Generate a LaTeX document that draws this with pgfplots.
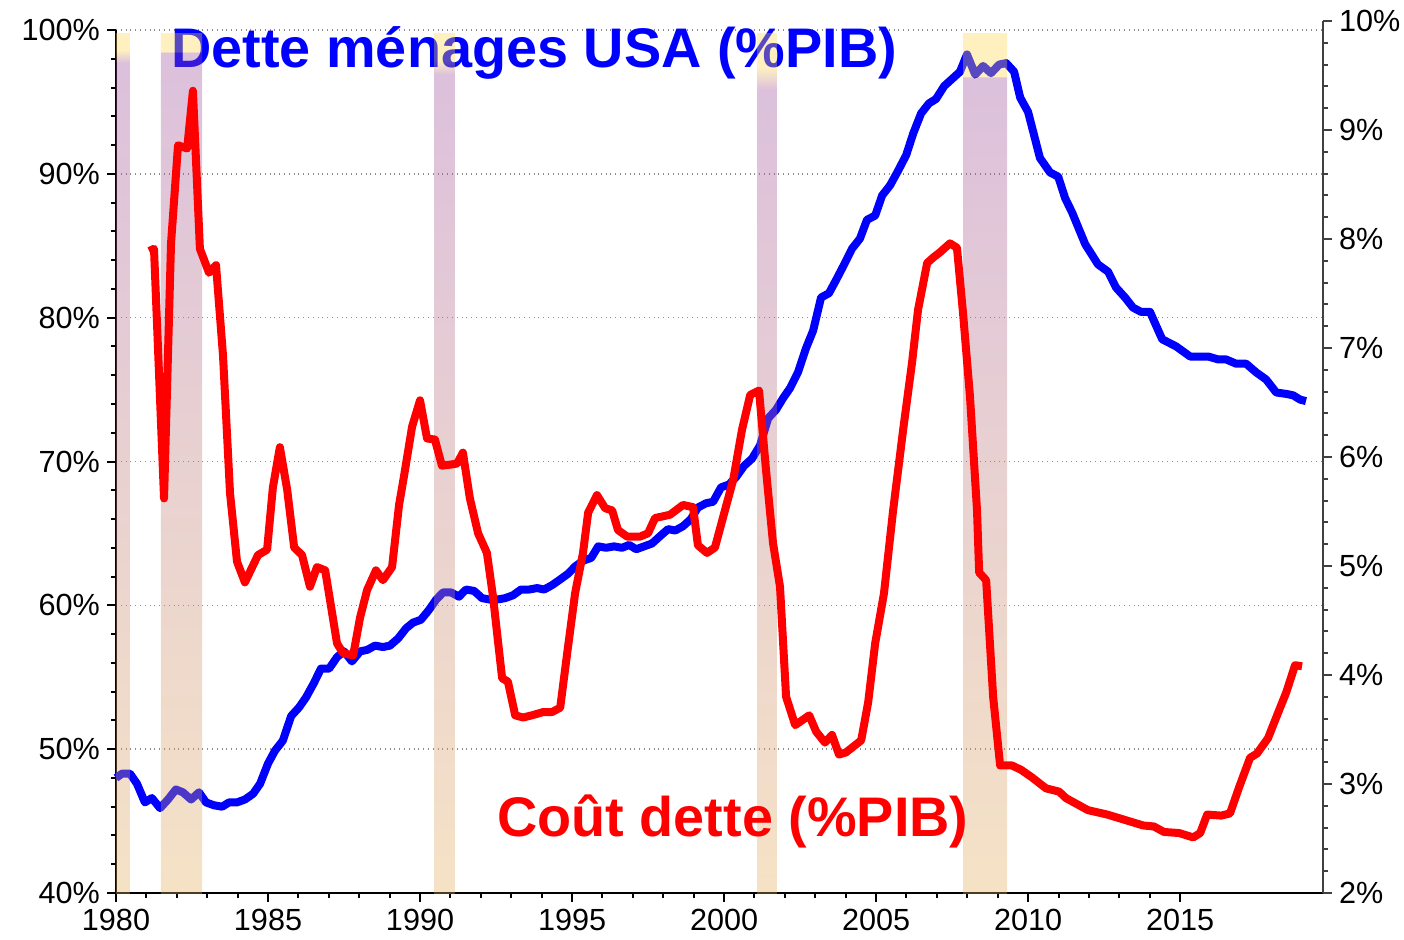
\documentclass[border=0pt]{standalone}
\usepackage{pgfplots}
\pgfplotsset{compat=1.18}
\usepackage{fontspec}
\setmainfont{Liberation Sans}

\definecolor{bandtop}{RGB}{155,75,155}
\definecolor{bandbot}{RGB}{226,172,89}
\definecolor{bandcap}{RGB}{255,212,75}
\definecolor{gridgray}{RGB}{140,140,140}

% one vertical shading per recession band: beige at the bottom, purple higher up, yellow cap
% (the path is mapped on 25bp..75bp of the shading)
\pgfdeclareverticalshading{bandA}{100bp}{color(0bp)=(bandbot); color(25bp)=(bandbot); color(73.26bp)=(bandtop); color(74.01bp)=(bandcap); color(100bp)=(bandcap)}
\pgfdeclareverticalshading{bandB}{100bp}{color(0bp)=(bandbot); color(25bp)=(bandbot); color(73.88bp)=(bandtop); color(73.9bp)=(bandcap); color(100bp)=(bandcap)}
\pgfdeclareverticalshading{bandC}{100bp}{color(0bp)=(bandbot); color(25bp)=(bandbot); color(72.58bp)=(bandtop); color(73.42bp)=(bandcap); color(100bp)=(bandcap)}
\pgfdeclareverticalshading{bandD}{100bp}{color(0bp)=(bandbot); color(25bp)=(bandbot); color(71.69bp)=(bandtop); color(73.03bp)=(bandcap); color(100bp)=(bandcap)}
\pgfdeclareverticalshading{bandE}{100bp}{color(0bp)=(bandbot); color(25bp)=(bandbot); color(72.43bp)=(bandtop); color(72.45bp)=(bandcap); color(100bp)=(bandcap)}

\pgfplotsset{
  common/.style={
    scale only axis, width=603.5pt,
    xmin=1980, xmax=2019.7,
    at={(0,0)}, anchor=south west,
    tick align=outside,
    major tick length=4.5pt, minor tick length=2.5pt,
    ticklabel style={font=\fontsize{15.3}{18}\selectfont},
    /pgf/number format/assume math mode=true,
    /pgf/number format/1000 sep={},
    clip=false,
  },
  band/.style={draw=none, fill opacity=0.35, forget plot, shading=#1},
}

\begin{document}
\begin{tikzpicture}
\useasboundingbox (-58pt,-23pt) rectangle (644pt,446.5pt);

% axe gauche : dette des menages
\begin{axis}[common,
    height=431.5pt,
    ymin=40, ymax=100,
    axis x line*=bottom, axis y line*=left,
    xtick={1980,1985,...,2015}, minor x tick num=4,
    ytick={40,50,...,100}, minor y tick num=4,
    yticklabel={\pgfmathprintnumber{\tick}\%},
    ymajorgrids, grid style={gridgray, dotted, line width=0.7pt},
    axis line style={line width=1pt, black},
    tick style={line width=1pt, black},
]
\node[anchor=base west, inner sep=0pt, text=blue, font=\fontsize{27.9}{30}\selectfont\bfseries]
  at (axis cs:1981.81,97.36) {Dette ménages USA (\%PIB)};

\addplot[blue, line width=4pt, line join=round] table {
x y
1980.00 48.0
1980.20 48.3
1980.46 48.3
1980.69 47.6
1980.95 46.3
1981.18 46.6
1981.45 45.9
1981.71 46.5
1981.97 47.2
1982.20 47.0
1982.47 46.5
1982.73 47.0
1982.96 46.3
1983.22 46.1
1983.49 46.0
1983.72 46.3
1983.98 46.3
1984.24 46.5
1984.51 46.9
1984.74 47.6
1985.00 49.0
1985.23 49.9
1985.49 50.6
1985.76 52.3
1986.02 52.9
1986.25 53.6
1986.51 54.6
1986.74 55.6
1987.01 55.6
1987.27 56.4
1987.50 56.8
1987.76 56.1
1988.03 56.8
1988.26 56.9
1988.52 57.2
1988.78 57.1
1989.01 57.2
1989.28 57.7
1989.54 58.4
1989.77 58.8
1990.03 59.0
1990.30 59.7
1990.53 60.4
1990.76 60.9
1991.02 60.9
1991.28 60.6
1991.51 61.1
1991.78 61.0
1992.04 60.5
1992.30 60.4
1992.53 60.4
1992.80 60.5
1993.06 60.7
1993.32 61.1
1993.59 61.1
1993.85 61.2
1994.08 61.1
1994.34 61.4
1994.61 61.8
1994.87 62.2
1995.10 62.7
1995.36 63.1
1995.63 63.3
1995.86 64.1
1996.12 64.0
1996.38 64.1
1996.64 64.0
1996.88 64.2
1997.11 63.9
1997.37 64.1
1997.63 64.3
1997.89 64.8
1998.16 65.3
1998.39 65.2
1998.65 65.5
1998.91 66.0
1999.14 66.8
1999.41 67.1
1999.64 67.2
1999.90 68.2
2000.16 68.4
2000.39 68.9
2000.66 69.7
2000.92 70.2
2001.18 71.1
2001.45 73.0
2001.71 73.6
2001.94 74.4
2002.17 75.1
2002.43 76.2
2002.70 77.9
2002.93 79.1
2003.19 81.4
2003.45 81.7
2003.68 82.6
2003.95 83.7
2004.21 84.8
2004.47 85.5
2004.70 86.8
2004.97 87.1
2005.20 88.5
2005.46 89.2
2005.72 90.2
2005.99 91.3
2006.22 92.8
2006.48 94.2
2006.74 94.9
2006.97 95.2
2007.24 96.1
2007.50 96.6
2007.76 97.1
2007.99 98.3
2008.26 96.9
2008.52 97.5
2008.78 97.0
2009.05 97.6
2009.28 97.7
2009.54 97.1
2009.74 95.3
2010.00 94.3
2010.39 91.1
2010.72 90.1
2010.99 89.8
2011.22 88.3
2011.45 87.3
2011.88 85.1
2012.30 83.7
2012.63 83.2
2012.89 82.1
2013.19 81.4
2013.45 80.7
2013.72 80.4
2014.01 80.4
2014.41 78.5
2014.87 78.0
2015.33 77.3
2015.59 77.3
2015.92 77.3
2016.25 77.1
2016.51 77.1
2016.84 76.8
2017.17 76.8
2017.50 76.2
2017.83 75.7
2018.16 74.8
2018.49 74.7
2018.72 74.6
2018.95 74.3
2019.14 74.2
};

% recessions (bandes de 40 a 99.79)
\addplot[band=bandA] coordinates {(1980,40)(1980,99.79)(1980.46,99.79)(1980.46,40)} -- cycle;
\addplot[band=bandB] coordinates {(1981.48,40)(1981.48,99.79)(1982.83,99.79)(1982.83,40)} -- cycle;
\addplot[band=bandC] coordinates {(1990.46,40)(1990.46,99.79)(1991.15,99.79)(1991.15,40)} -- cycle;
\addplot[band=bandD] coordinates {(2001.09,40)(2001.09,99.79)(2001.74,99.79)(2001.74,40)} -- cycle;
\addplot[band=bandE] coordinates {(2007.86,40)(2007.86,99.79)(2009.31,99.79)(2009.31,40)} -- cycle;
\end{axis}

% axe droit : cout de la dette
\begin{axis}[common,
    height=436pt,
    ymin=2, ymax=10,
    axis y line*=right, axis x line=none,
    ytick={2,3,...,10}, minor y tick num=4,
    yticklabel={\pgfmathprintnumber{\tick}\%},
    axis line style={line width=1pt, black!75},
    tick style={line width=1pt, black!75},
]
\addplot[red, line width=4pt, line join=round] table {
x y
1981.09 7.89
1981.25 7.91
1981.58 5.62
1981.81 7.96
1982.04 8.86
1982.34 8.83
1982.53 9.36
1982.76 7.91
1983.06 7.69
1983.29 7.76
1983.52 6.93
1983.75 5.67
1983.98 5.04
1984.24 4.85
1984.67 5.10
1984.97 5.15
1985.16 5.72
1985.39 6.09
1985.63 5.70
1985.86 5.17
1986.12 5.10
1986.38 4.81
1986.61 4.99
1986.88 4.96
1987.27 4.29
1987.47 4.20
1987.80 4.18
1988.03 4.53
1988.26 4.78
1988.55 4.96
1988.78 4.87
1989.08 4.99
1989.31 5.56
1989.47 5.82
1989.74 6.28
1990.00 6.52
1990.23 6.17
1990.49 6.16
1990.72 5.92
1990.99 5.93
1991.22 5.94
1991.41 6.04
1991.64 5.62
1991.91 5.30
1992.20 5.12
1992.40 4.72
1992.70 3.97
1992.89 3.94
1993.13 3.63
1993.39 3.61
1993.68 3.63
1994.05 3.66
1994.34 3.66
1994.61 3.70
1994.84 4.20
1995.10 4.75
1995.36 5.12
1995.53 5.49
1995.82 5.65
1996.09 5.53
1996.32 5.51
1996.51 5.33
1996.81 5.27
1997.24 5.27
1997.50 5.30
1997.73 5.44
1998.22 5.47
1998.65 5.56
1998.98 5.54
1999.14 5.19
1999.44 5.12
1999.70 5.17
1999.97 5.45
2000.30 5.79
2000.59 6.25
2000.86 6.57
2001.15 6.61
2001.38 5.88
2001.61 5.21
2001.84 4.81
2002.04 3.80
2002.34 3.54
2002.80 3.63
2003.03 3.48
2003.32 3.38
2003.55 3.45
2003.78 3.27
2004.01 3.29
2004.51 3.40
2004.74 3.75
2004.97 4.29
2005.26 4.75
2005.56 5.51
2005.89 6.25
2006.18 6.86
2006.38 7.35
2006.68 7.78
2006.88 7.83
2007.11 7.88
2007.43 7.96
2007.66 7.92
2007.86 7.32
2008.09 6.55
2008.32 5.51
2008.39 4.94
2008.62 4.87
2008.85 3.80
2009.08 3.17
2009.47 3.17
2009.77 3.13
2010.13 3.06
2010.59 2.96
2011.02 2.93
2011.25 2.87
2011.97 2.76
2012.60 2.72
2013.19 2.67
2013.78 2.62
2014.14 2.61
2014.47 2.56
2014.97 2.55
2015.43 2.51
2015.66 2.55
2015.89 2.72
2016.35 2.71
2016.64 2.73
2016.94 2.97
2017.30 3.24
2017.53 3.28
2017.89 3.42
2018.26 3.68
2018.49 3.84
2018.78 4.09
2019.01 4.08
};
\node[anchor=base west, inner sep=0pt, text=red, font=\fontsize{27.9}{30}\selectfont\bfseries]
  at (axis cs:1992.53,2.514) {Coût dette (\%PIB)};
\end{axis}
\end{tikzpicture}
\end{document}
